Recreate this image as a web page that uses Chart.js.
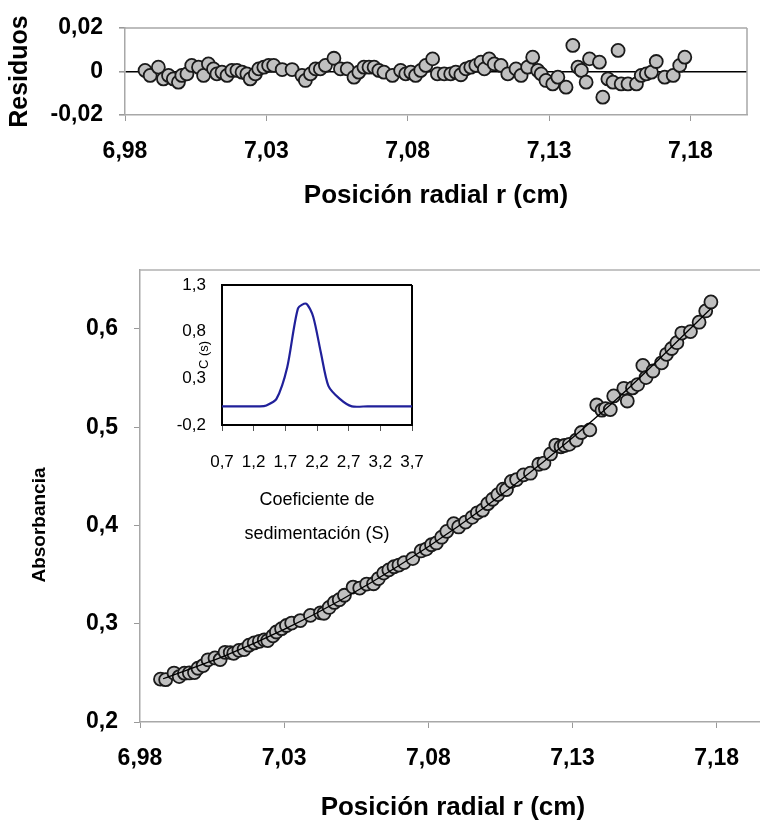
<!DOCTYPE html>
<html>
<head>
<meta charset="utf-8">
<script src="https://cdn.jsdelivr.net/npm/chart.js@4.4.0/dist/chart.umd.min.js"></script>
<style>
  html, body { margin: 0; padding: 0; background: #fff; overflow: hidden; }
  .page { position: relative; width: 760px; height: 825px; overflow: hidden; }
  canvas { position: absolute; }
  #residual-chart { left: 0; top: 0; }
  #main-chart { left: 0; top: 230px; }
  #inset-chart { left: 160px; top: 272px; }
</style>
</head>
<body>
<div class="page">
  <canvas id="residual-chart" width="760" height="220"></canvas>
  <canvas id="main-chart" width="774" height="595"></canvas>
  <canvas id="inset-chart" width="270" height="290"></canvas>
</div>
<script>
// datos
const radialPos = [6.9871, 6.9889, 6.9918, 6.9936, 6.9954, 6.9971, 6.9989, 7.0001, 7.0019, 7.0036,
  7.0060, 7.0078, 7.0095, 7.0113, 7.0125, 7.0143, 7.0161, 7.0178, 7.0196, 7.0214,
  7.0231, 7.0243, 7.0261, 7.0273, 7.0291, 7.0308, 7.0326, 7.0356, 7.0391, 7.0426,
  7.0438, 7.0456, 7.0474, 7.0491, 7.0509, 7.0539, 7.0562, 7.0586, 7.0610, 7.0627,
  7.0645, 7.0663, 7.0681, 7.0698, 7.0716, 7.0746, 7.0775, 7.0793, 7.0811, 7.0828,
  7.0846, 7.0864, 7.0888, 7.0905, 7.0929, 7.0952, 7.0970, 7.0988, 7.1006, 7.1023,
  7.1041, 7.1059, 7.1071, 7.1088, 7.1106, 7.1130, 7.1154, 7.1183, 7.1201, 7.1224,
  7.1242, 7.1260, 7.1272, 7.1289, 7.1313, 7.1331, 7.1360, 7.1384, 7.1402, 7.1414,
  7.1431, 7.1443, 7.1478, 7.1490, 7.1508, 7.1526, 7.1544, 7.1555, 7.1579, 7.1609,
  7.1626, 7.1644, 7.1662, 7.1679, 7.1709, 7.1739, 7.1762, 7.1780];

const residuals = [0.0005, -0.0018, 0.0020, -0.0034, -0.0018, -0.0034, -0.0049, -0.0018, -0.0011, 0.0028,
  0.0020, -0.0018, 0.0035, 0.0012, -0.0011, -0.0003, -0.0018, 0.0005, 0.0005, -0.0003,
  -0.0011, -0.0034, -0.0011, 0.0012, 0.0020, 0.0028, 0.0028, 0.0009, 0.0009, -0.0018,
  -0.0041, -0.0011, 0.0012, 0.0012, 0.0028, 0.0061, 0.0012, 0.0012, -0.0026, -0.0003,
  0.0020, 0.0020, 0.0020, 0.0005, -0.0003, -0.0018, 0.0005, -0.0011, -0.0003, -0.0018,
  0.0005, 0.0028, 0.0058, -0.0011, -0.0011, -0.0011, -0.0003, -0.0015, 0.0012, 0.0020,
  0.0028, 0.0043, 0.0012, 0.0058, 0.0035, 0.0028, -0.0011, 0.0012, -0.0018, 0.0020,
  0.0066, 0.0005, -0.0011, -0.0041, -0.0057, -0.0026, -0.0072, 0.0120, 0.0020, 0.0005,
  -0.0049, 0.0058, 0.0043, -0.0118, -0.0034, -0.0049, 0.0097, -0.0057, -0.0057, -0.0057,
  -0.0018, -0.0011, -0.0003, 0.0046, -0.0026, -0.0018, 0.0028, 0.0066];

const absorbance = [0.2436, 0.2431, 0.2498, 0.2462, 0.2497, 0.2499, 0.2503, 0.2547, 0.2574, 0.2633,
  0.2652, 0.2635, 0.2709, 0.2707, 0.2699, 0.2729, 0.2737, 0.2782, 0.2805, 0.2821,
  0.2836, 0.2829, 0.2877, 0.2916, 0.2950, 0.2982, 0.3007, 0.3032, 0.3085, 0.3111,
  0.3107, 0.3166, 0.3217, 0.3245, 0.3290, 0.3373, 0.3363, 0.3404, 0.3407, 0.3460,
  0.3515, 0.3548, 0.3580, 0.3597, 0.3622, 0.3663, 0.3741, 0.3760, 0.3804, 0.3822,
  0.3881, 0.3940, 0.4019, 0.3985, 0.4035, 0.4083, 0.4129, 0.4156, 0.4222, 0.4267,
  0.4314, 0.4369, 0.4365, 0.4449, 0.4467, 0.4515, 0.4532, 0.4623, 0.4635, 0.4728,
  0.4818, 0.4801, 0.4814, 0.4826, 0.4869, 0.4946, 0.4973, 0.5226, 0.5173, 0.5189,
  0.5180, 0.5318, 0.5396, 0.5267, 0.5400, 0.5434, 0.5629, 0.5505, 0.5572, 0.5655,
  0.5742, 0.5801, 0.5860, 0.5958, 0.5973, 0.6069, 0.6183, 0.6275];

// curva ajustada
const fitPos = [6.988, 7.01, 7.03, 7.05, 7.07, 7.09, 7.11, 7.13, 7.15, 7.178];
const fitAbs = [0.244, 0.268, 0.2942, 0.3247, 0.3595, 0.3985, 0.4418, 0.4894, 0.5412, 0.6209];

// inset: distribucion c(s)
const sedCoef = [0.7, 1.0, 1.3, 1.4, 1.56, 1.73, 1.9, 2.03, 2.14, 2.26, 2.38, 2.56, 2.75, 3.0, 3.3, 3.7];
const cS = [0, 0, 0, 0.01, 0.08, 0.42, 1.05, 1.10, 0.96, 0.58, 0.22, 0.08, 0, 0, 0, 0];

// ticks
const radialTicks = [6.98, 7.03, 7.08, 7.13, 7.18];
const residualTicks = [-0.02, 0, 0.02];
const absTicks = [0.2, 0.3, 0.4, 0.5, 0.6];
const sedTicks = [0.7, 1.2, 1.7, 2.2, 2.7, 3.2, 3.7];
const cSTicks = [-0.2, 0.3, 0.8, 1.3];

Chart.defaults.font.family = "'Liberation Sans', Arial, sans-serif";
Chart.defaults.color = '#000';

const fmt = (v, d) => v.toFixed(d).replace('.', ',');
const setTicks = arr => scale => { scale.ticks = arr.map(v => ({ value: v })); };

// tamaño fijo del eje, sin relleno extra por las etiquetas
const fixW = w => s => { s.width = w; s.paddingTop = 0; s.paddingBottom = 0; };
const fixH = h => s => { s.height = h; s.paddingLeft = 0; s.paddingRight = 0; };

// marco del area de trazado (lados superior y derecho)
const framePlugin = {
  id: 'frame',
  beforeDatasetsDraw(chart, args, opts) {
    const { ctx, chartArea: a } = chart;
    ctx.save();
    ctx.strokeStyle = opts.color;
    ctx.lineWidth = opts.width;
    ctx.beginPath();
    ctx.moveTo(a.left, a.top);
    ctx.lineTo(a.right, a.top);
    if (opts.right) {
      ctx.moveTo(a.right, a.top);
      ctx.lineTo(a.right, a.bottom);
    }
    ctx.stroke();
    ctx.restore();
  }
};

const pointStyle = {
  pointRadius: 6.5,
  pointBackgroundColor: '#c0c0c0',
  pointBorderColor: '#1a1a1a',
  pointBorderWidth: 1.8,
  showLine: false
};

//residuos
new Chart(document.getElementById('residual-chart'), {
  type: 'scatter',
  data: {
    datasets: [{
      data: radialPos.map((x, i) => ({ x: x, y: residuals[i] })),
      ...pointStyle
    }]
  },
  options: {
    responsive: false,
    animation: false,
    layout: { padding: { top: 28, right: 13, left: 0, bottom: 0 } },
    plugins: {
      legend: { display: false },
      tooltip: { enabled: false },
      frame: { color: '#a8a8a8', width: 1.5, right: true }
    },
    scales: {
      x: {
        min: 6.98,
        max: 7.2,
        afterBuildTicks: setTicks(radialTicks),
        afterFit: fixH(105),
        grid: { drawOnChartArea: false, tickLength: 6, color: '#999' },
        border: { color: '#a8a8a8', width: 1.5 },
        ticks: { padding: 17, maxRotation: 0, font: { size: 23, weight: 'bold' }, callback: v => fmt(v, 2) },
        title: { display: true, text: 'Posición radial r (cm)', padding: { top: 0, bottom: 9 }, font: { size: 26, weight: 'bold' } }
      },
      y: {
        min: -0.02,
        max: 0.02,
        afterBuildTicks: setTicks(residualTicks),
        afterFit: fixW(125),
        grid: {
          tickLength: 6,
          tickColor: '#999',
          lineWidth: 1.6,
          color: c => (c.tick && c.tick.value === 0 ? '#000' : 'rgba(0,0,0,0)')
        },
        border: { color: '#a8a8a8', width: 1.5 },
        ticks: { padding: 16, font: { size: 23, weight: 'bold' }, callback: v => (v === 0 ? '0' : fmt(v, 2)) },
        title: { display: true, text: 'Residuos', padding: { top: 5, bottom: 0 }, font: { size: 25, weight: 'bold' } }
      }
    }
  },
  plugins: [framePlugin]
});

//absorbancia
new Chart(document.getElementById('main-chart'), {
  type: 'scatter',
  data: {
    datasets: [{
      type: 'line',
      data: fitPos.map((x, i) => ({ x: x, y: fitAbs[i] })),
      borderColor: '#000',
      borderWidth: 1.3,
      pointRadius: 0,
      fill: false,
      cubicInterpolationMode: 'monotone',
      order: 0
    },
    {
      data: radialPos.map((x, i) => ({ x: x, y: absorbance[i] })),
      ...pointStyle,
      order: 1
    }]
  },
  options: {
    responsive: false,
    animation: false,
    layout: { padding: { top: 40, right: 0, left: 0, bottom: 0 } },
    plugins: {
      legend: { display: false },
      tooltip: { enabled: false },
      frame: { color: '#b0b0b0', width: 1.5, right: false }
    },
    scales: {
      x: {
        type: 'linear',
        min: 6.98,
        max: 7.197,
        afterBuildTicks: setTicks(radialTicks),
        afterFit: fixH(103),
        grid: { drawOnChartArea: false, tickLength: 6, color: '#999' },
        border: { color: '#a8a8a8', width: 1.5 },
        ticks: { padding: 17, maxRotation: 0, font: { size: 23, weight: 'bold' }, callback: v => fmt(v, 2) },
        title: { display: true, text: 'Posición radial r (cm)', padding: { top: 0, bottom: 2 }, font: { size: 26, weight: 'bold' } }
      },
      y: {
        min: 0.2,
        max: 0.66,
        afterBuildTicks: setTicks(absTicks),
        afterFit: fixW(140),
        grid: { drawOnChartArea: false, tickLength: 6, color: '#999' },
        border: { color: '#a8a8a8', width: 1.5 },
        ticks: { padding: 16, font: { size: 23, weight: 'bold' }, callback: v => fmt(v, 1) },
        title: { display: true, text: 'Absorbancia' + '\u00a0'.repeat(11), padding: { top: 28, bottom: 0 }, font: { size: 19, weight: 'bold' } }
      }
    }
  },
  plugins: [framePlugin]
});

//inset c(s)
new Chart(document.getElementById('inset-chart'), {
  type: 'scatter',
  data: {
    datasets: [{
      data: sedCoef.map((x, i) => ({ x: x, y: cS[i] })),
      showLine: true,
      borderColor: '#20209a',
      borderWidth: 2.2,
      pointRadius: 0,
      tension: 0.25
    }]
  },
  options: {
    responsive: false,
    animation: false,
    layout: { padding: { top: 13, right: 18, left: 0, bottom: 0 } },
    plugins: {
      legend: { display: false },
      tooltip: { enabled: false },
      frame: { color: '#000', width: 2, right: true }
    },
    scales: {
      x: {
        min: 0.7,
        max: 3.7,
        afterBuildTicks: setTicks(sedTicks),
        afterFit: fixH(137),
        grid: { drawOnChartArea: false, tickLength: 6, color: '#555' },
        border: { color: '#000', width: 2 },
        ticks: { padding: 21, maxRotation: 0, autoSkip: false, font: { size: 17 }, callback: v => fmt(v, 1) },
        title: {
          display: true,
          text: ['Coeficiente de', 'sedimentación (S)'],
          padding: { top: 0, bottom: 11 },
          font: { size: 18, lineHeight: 1.9 }
        }
      },
      y: {
        min: -0.2,
        max: 1.3,
        afterBuildTicks: setTicks(cSTicks),
        afterFit: fixW(62),
        grid: { drawOnChartArea: false, drawTicks: false },
        border: { color: '#000', width: 2 },
        ticks: { padding: 16, font: { size: 17 }, callback: v => fmt(v, 1) },
        title: { display: true, text: 'C (s)', padding: { top: 37, bottom: 0 }, font: { size: 13 } }
      }
    }
  },
  plugins: [framePlugin]
});
</script>
</body>
</html>
